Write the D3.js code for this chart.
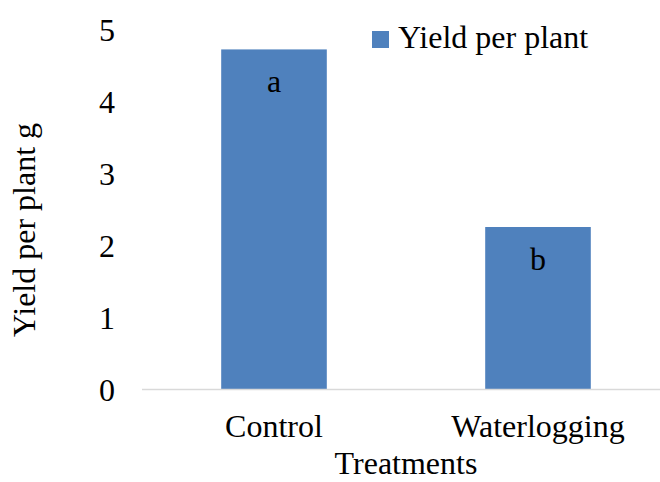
<!DOCTYPE html>
<html>
<head>
<meta charset="utf-8">
<script src="https://cdn.jsdelivr.net/npm/d3@7"></script>
<style>
  body { margin: 0; background: #fff; }
  text { font-family: "Liberation Serif", "Times New Roman", serif; fill: #000; }
</style>
</head>
<body>
<div id="chart"></div>
<script>
// data
const treatments = ["Control", "Waterlogging"];
const yieldValues = [4.73, 2.26];
const letters = ["a", "b"];
const yTicks = [0, 1, 2, 3, 4, 5];
const seriesName = "Yield per plant";

const width = 660, height = 482;
const fontSize = 32;
const barColor = "#4f81bd";

const svg = d3.select("#chart").append("svg")
    .attr("width", width)
    .attr("height", height);

// plot area (runs a bit past the right edge, like the source)
const plot = {left: 142, right: 670, top: 30, bottom: 389.5};

const x = d3.scaleBand()
    .domain(treatments)
    .range([plot.left, plot.right])
    .paddingInner(0.6)
    .paddingOuter(0.3);

const y = d3.scaleLinear()
    .domain([0, 5])
    .range([plot.bottom, plot.top]);

// y tick labels
const yAxis = d3.axisLeft(y)
    .tickValues(yTicks)
    .tickSize(0)
    .tickPadding(0)
    .tickFormat(d3.format("d"));

svg.append("g")
    .attr("transform", `translate(115,0)`)
    .call(yAxis)
    .call(g => g.select(".domain").remove())
    .selectAll("text")
    .attr("font-family", "Liberation Serif, serif")
    .attr("font-size", fontSize)
    .attr("dy", "0.34em")
    .attr("fill", "#000");

// bars
svg.selectAll(".bar")
    .data(treatments)
    .enter().append("rect")
    .attr("class", "bar")
    .attr("x", d => x(d))
    .attr("width", x.bandwidth())
    .attr("y", (d, i) => y(yieldValues[i]))
    .attr("height", (d, i) => y(0) - y(yieldValues[i]))
    .attr("fill", barColor);

// letters inside bars
svg.selectAll(".letter")
    .data(treatments)
    .enter().append("text")
    .attr("class", "letter")
    .attr("x", d => x(d) + x.bandwidth() / 2)
    .attr("y", (d, i) => y(yieldValues[i]) + 42.5)
    .attr("text-anchor", "middle")
    .attr("font-size", fontSize)
    .text((d, i) => letters[i]);

// category axis line
svg.append("line")
    .attr("x1", plot.left)
    .attr("x2", plot.right)
    .attr("y1", y(0))
    .attr("y2", y(0))
    .attr("stroke", "#d9d9d9")
    .attr("stroke-width", 1.5);

// category labels
const xAxis = d3.axisBottom(x).tickSize(0).tickPadding(0);
svg.append("g")
    .attr("transform", `translate(0,${y(0)})`)
    .call(xAxis)
    .call(g => g.select(".domain").remove())
    .selectAll("text")
    .attr("font-family", "Liberation Serif, serif")
    .attr("font-size", fontSize)
    .attr("fill", "#000")
    .attr("dy", null)
    .attr("y", 47.5);

// axis titles
svg.append("text")
    .attr("x", (plot.left + plot.right) / 2)
    .attr("y", 474)
    .attr("text-anchor", "middle")
    .attr("font-size", fontSize)
    .text("Treatments");

svg.append("text")
    .attr("transform", "translate(35,230) rotate(-90)")
    .attr("text-anchor", "middle")
    .attr("font-size", fontSize)
    .text("Yield per plant g");

// legend
const legend = svg.append("g").attr("transform", "translate(372,31)");
legend.append("rect")
    .attr("width", 17)
    .attr("height", 17)
    .attr("fill", barColor);
legend.append("text")
    .attr("x", 26)
    .attr("y", 17)
    .attr("font-size", fontSize)
    .text(seriesName);
</script>
</body>
</html>
